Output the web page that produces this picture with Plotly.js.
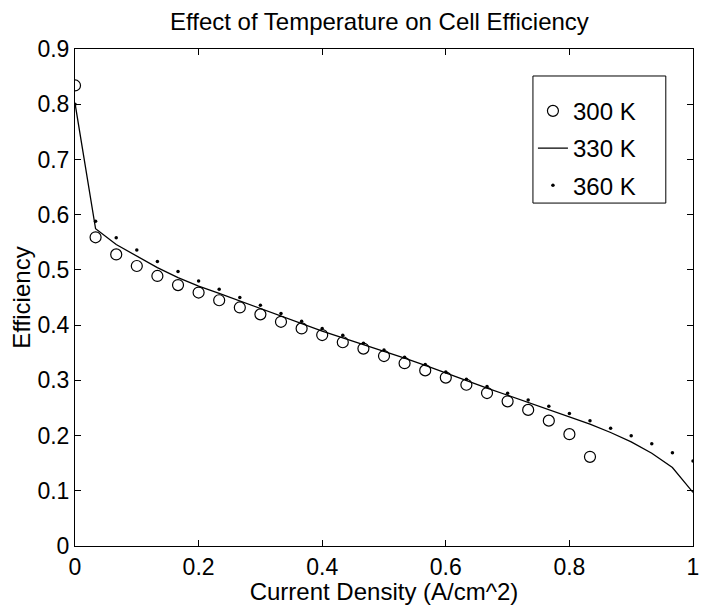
<!DOCTYPE html>
<html>
<head>
<meta charset="utf-8">
<script src="https://cdn.plot.ly/plotly-3.0.1.min.js"></script>
<style>html,body{margin:0;padding:0;background:#fff;}#chart{width:701px;height:605px;}</style>
</head>
<body>
<div id="chart"></div>
<script>
// Current density steps (A/cm^2): k/30
var xAll = [0, 0.0333, 0.0667, 0.1, 0.1333, 0.1667, 0.2, 0.2333, 0.2667, 0.3, 0.3333,
            0.3667, 0.4, 0.4333, 0.4667, 0.5, 0.5333, 0.5667, 0.6, 0.6333, 0.6667,
            0.7, 0.7333, 0.7667, 0.8, 0.8333, 0.8667, 0.9, 0.9333, 0.9667, 1.0];
var x300 = xAll.slice(0, 26);
var eff300 = [0.834, 0.559, 0.528, 0.507, 0.489, 0.4725, 0.459, 0.445, 0.432, 0.4195, 0.406,
              0.394, 0.382, 0.369, 0.3575, 0.344, 0.331, 0.318, 0.305, 0.292, 0.277,
              0.262, 0.2465, 0.227, 0.2025, 0.1615];
var eff330 = [0.802, 0.5745, 0.546, 0.525, 0.504, 0.486, 0.4707, 0.4575, 0.4436, 0.430, 0.4165,
              0.403, 0.389, 0.377, 0.365, 0.353, 0.340, 0.327, 0.313, 0.300, 0.286,
              0.273, 0.260, 0.247, 0.234, 0.2206, 0.2055, 0.1886, 0.168, 0.142, 0.097];
var eff360 = [0.800, 0.588, 0.558, 0.536, 0.515, 0.497, 0.480, 0.465, 0.450, 0.436, 0.421,
              0.407, 0.394, 0.3816, 0.367, 0.355, 0.342, 0.3285, 0.315, 0.302, 0.289,
              0.2767, 0.2646, 0.253, 0.240, 0.2266, 0.2134, 0.1995, 0.185, 0.169, 0.1537];
var xTicks = [0, 0.2, 0.4, 0.6, 0.8, 1];
var xTickText = ['0', '0.2', '0.4', '0.6', '0.8', '1'];
var yTicks = [0, 0.1, 0.2, 0.3, 0.4, 0.5, 0.6, 0.7, 0.8, 0.9];
var yTickText = ['0', '0.1', '0.2', '0.3', '0.4', '0.5', '0.6', '0.7', '0.8', '0.9'];

var F = 'Liberation Sans, Arial, Helvetica, sans-serif';
var traces = [
  {x: x300, y: eff300, name: '300 K', type: 'scatter', mode: 'markers', legendgroup: 'a',
   marker: {symbol: 'circle-open', size: 11, color: '#000', line: {width: 1.2, color: '#000'}}},
  {x: xAll, y: eff330, name: '330 K', type: 'scatter', mode: 'lines', legendgroup: 'b',
   line: {color: '#000', width: 1.3}},
  {x: xAll, y: eff360, name: '360 K', type: 'scatter', mode: 'markers', legendgroup: 'c',
   marker: {symbol: 'circle', size: 3.5, color: '#000'}}
];
var axisCommon = {showline: true, mirror: 'ticks', linecolor: '#000', linewidth: 1,
  ticks: 'inside', ticklen: 6, tickcolor: '#000', showgrid: false, zeroline: false,
  ticklabeloverflow: 'allow',
  tickfont: {family: F, size: 23, color: '#000'}};
var layout = {
  width: 701, height: 605,
  margin: {l: 75, r: 8, t: 49, b: 59},
  paper_bgcolor: '#fff', plot_bgcolor: '#fff',
  font: {family: F, color: '#000'},
  title: {text: 'Effect of Temperature on Cell Efficiency', font: {family: F, size: 24, color: '#000'},
          x: 0.2425, xanchor: 'left', y: 0.965, yanchor: 'middle'},
  xaxis: Object.assign({}, axisCommon, {range: [0, 1], tickvals: xTicks, ticktext: xTickText,
          title: {text: 'Current Density (A/cm^2)', font: {family: F, size: 24, color: '#000'}, standoff: 0}}),
  yaxis: Object.assign({}, axisCommon, {range: [0, 0.9], tickvals: yTicks, ticktext: yTickText,
          title: {text: 'Efficiency', font: {family: F, size: 24, color: '#000'}, standoff: 0}}),
  showlegend: true,
  legend: {x: 0.741, y: 0.92, xanchor: 'left', yanchor: 'top', bgcolor: 'rgba(0,0,0,0)',
           borderwidth: 0, font: {family: F, size: 24, color: '#000'},
           traceorder: 'grouped', tracegroupgap: 3, itemwidth: 30},
  shapes: [{type: 'rect', xref: 'paper', yref: 'paper', x0: 0.741, x1: 0.956, y0: 0.690, y1: 0.9457,
            line: {color: '#000', width: 1}, fillcolor: '#fff', layer: 'below'}]
};
Plotly.newPlot('chart', traces, layout, {displayModeBar: false, staticPlot: true});
</script>
</body>
</html>
